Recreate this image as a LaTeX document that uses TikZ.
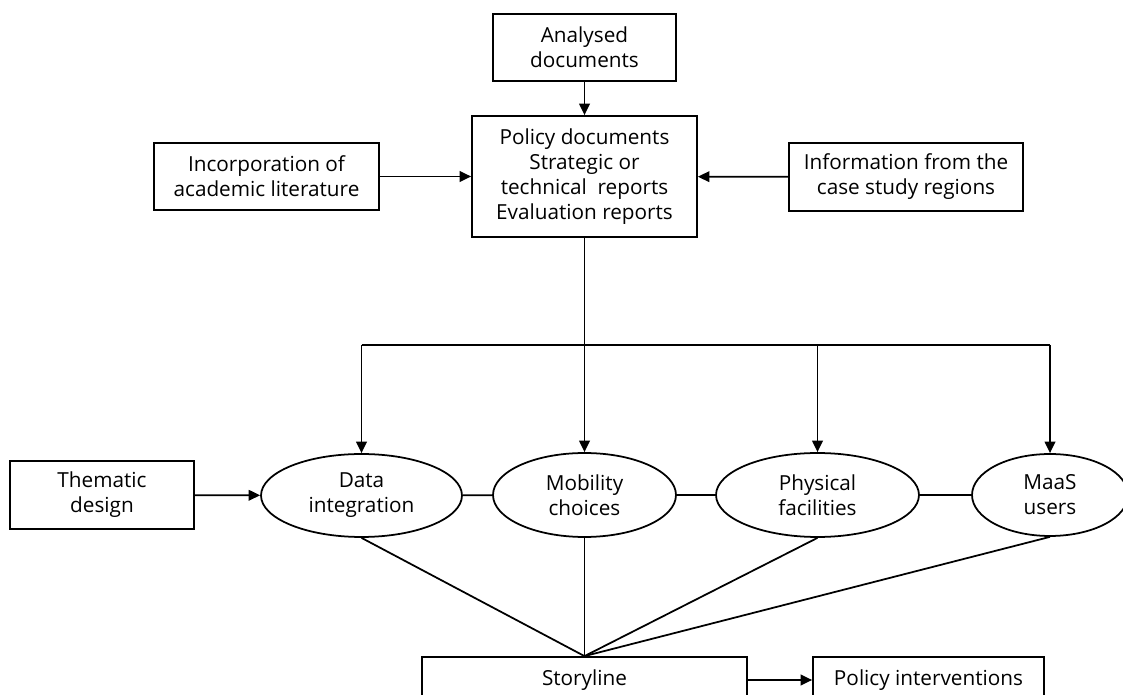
\documentclass[tikz,border=0pt]{standalone}
\usepackage{fontspec}
\setmainfont{Open Sans}
\usepackage{tikz}
\usetikzlibrary{arrows.meta,shapes.geometric}

\begin{document}
\begin{tikzpicture}[x=0.02cm,y=-0.02cm,line width=1pt,
        every node/.style={font=\fontsize{11.8pt}{14.2pt}\selectfont,align=center,inner sep=0pt},
        box/.style={draw,rectangle},
        theme/.style={draw,ellipse},
        arr/.style={-{Triangle[length=6.5pt,width=6pt]}}]
        \useasboundingbox (0,0) rectangle (1123,695);

        % sources
        \node[box,minimum width=3.66cm,minimum height=1.34cm] (ana)  at (584.5,47.5)  {Analysed\\documents};
        \node[box,minimum width=4.5cm,minimum height=2.42cm]  (pol)  at (584.5,176.5) {Policy documents\\Strategic or\\technical\ \ reports\\Evaluation reports};
        \node[box,minimum width=4.5cm,minimum height=1.34cm]  (inc)  at (266.5,176.5) {Incorporation of\\academic literature};
        \node[box,minimum width=4.68cm,minimum height=1.36cm] (info) at (906,177)     {Information from the\\case study regions};
        \node[box,minimum width=3.68cm,minimum height=1.36cm] (them) at (102,495)     {Thematic\\design};

        % themes
        \node[theme,minimum width=4.02cm,minimum height=1.66cm] (data) at (361.5,495.5) {Data\\integration};
        \node[theme,minimum width=3.66cm,minimum height=1.68cm] (mob)  at (584.5,495)   {Mobility\\choices};
        \node[theme,minimum width=4.06cm,minimum height=1.68cm] (phy)  at (817.5,495)   {Physical\\facilities};
        \node[theme,minimum width=3.12cm,minimum height=1.64cm] (maas) at (1050,495)    {MaaS\\users};

        % outputs
        \node[box,minimum width=6.5cm,minimum height=0.92cm]  (story)  at (584.5,680) {Storyline};
        \node[box,minimum width=4.62cm,minimum height=0.92cm] (polint) at (928.5,680) {Policy interventions};

        \draw[arr] (ana) -- (pol);
        \draw[arr] (inc) -- (pol);
        \draw[arr] (info) -- (pol);

        %Split to the themes
        \coordinate (split) at (584.5,345);
        \draw (pol.south) -- (split);
        \draw (data.north |- split) -- (maas.north |- split);
        \foreach \t in {data,mob,phy,maas}
            \draw[arr] (\t.north |- split) -- (\t.north);

        \draw[arr] (them) -- (data);
        \draw (data) -- (mob) (mob) -- (phy) (phy) -- (maas);

        \foreach \t in {data,mob,phy,maas}
            \draw (\t.south) -- (story.north);
        \draw[arr] (story) -- (polint);
\end{tikzpicture}
\end{document}
